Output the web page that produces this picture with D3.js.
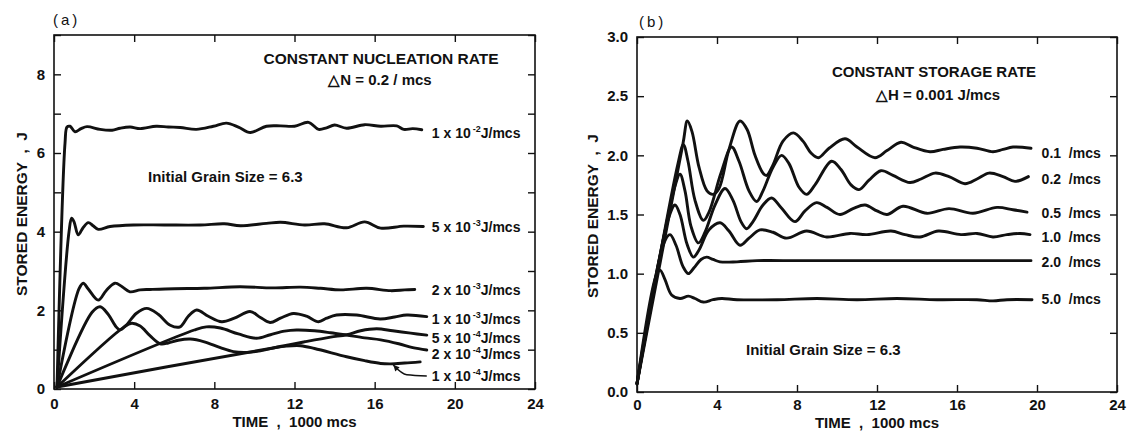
<!DOCTYPE html>
<html>
<head>
<meta charset="utf-8">
<script src="https://cdn.jsdelivr.net/npm/d3@7"></script>
<style>
  body { margin: 0; background: #fff; }
  svg text { font-family: "Liberation Sans", Arial, Helvetica, sans-serif; font-weight: bold; fill: #111; white-space: pre; }
</style>
</head>
<body>
<svg id="canvas" width="1129" height="434"></svg>
<script>
// time in 1000 mcs, stored energy in J

// (a) constant nucleation rate, one curve per storage rate
const curveA_1e2 = [[0.15,0.05],[0.55,6.25],[0.65,6.66],[0.8,6.68],[1.05,6.54],[1.35,6.62],[1.65,6.67],[2.3,6.6],[2.9,6.58],[3.3,6.63],[3.8,6.66],[4.3,6.62],[5.1,6.68],[5.7,6.66],[6.3,6.65],[7.1,6.6],[7.95,6.68],[8.6,6.76],[9.2,6.66],[9.8,6.52],[10.6,6.68],[11.3,6.69],[12.0,6.68],[12.7,6.78],[13.2,6.6],[13.6,6.64],[14.0,6.71],[14.6,6.63],[15.5,6.72],[16.3,6.68],[17.1,6.69],[17.45,6.6],[17.9,6.62],[18.35,6.59]]
const curveA_5e3 = [[0.15,0.05],[0.75,4.0],[0.88,4.34],[1.0,4.25],[1.21,3.92],[1.45,4.1],[1.71,4.23],[1.95,4.15],[2.21,4.06],[2.8,4.13],[3.96,4.17],[5.5,4.17],[7.3,4.17],[8.5,4.2],[9.3,4.15],[10.6,4.21],[11.3,4.24],[12.5,4.17],[13.5,4.2],[14.6,4.1],[15.5,4.25],[16.3,4.09],[17.45,4.14],[18.43,4.13]]
const curveA_2e3 = [[0.15,0.05],[1.25,2.55],[1.46,2.69],[1.7,2.55],[2.21,2.26],[2.6,2.5],[3.04,2.69],[3.4,2.6],[3.79,2.47],[4.3,2.52],[4.79,2.53],[6,2.55],[7.5,2.56],[9.28,2.6],[10.9,2.57],[12.3,2.59],[13.3,2.56],[14.3,2.52],[15.6,2.56],[16.8,2.5],[17.5,2.52],[18.0,2.53]]
const curveA_1e3 = [[0.15,0.05],[1.9,1.95],[2.3,2.09],[2.7,1.9],[3.1,1.58],[3.29,1.5],[3.6,1.62],[4.1,1.92],[4.63,2.05],[5.2,1.9],[5.8,1.62],[6.29,1.58],[6.7,1.85],[7.12,2.01],[7.7,1.85],[8.37,1.71],[9.0,1.8],[9.78,1.97],[10.3,1.82],[10.78,1.69],[11.3,1.8],[11.94,1.92],[12.6,1.85],[13.2,1.71],[13.6,1.8],[14.1,1.88],[15.1,1.88],[16.27,1.78],[17.0,1.83],[17.6,1.88],[18.6,1.84]]
const curveA_5e4 = [[0.15,0.05],[3.5,1.58],[3.88,1.67],[4.3,1.6],[4.8,1.35],[5.3,1.15],[5.7,1.17],[6.2,1.24],[6.8,1.27],[7.5,1.2],[8.3,1.05],[8.95,0.95],[9.6,0.93],[10.3,0.97],[11.28,1.08],[12.5,1.2],[13.8,1.32],[14.6,1.38],[15.3,1.48],[16.1,1.53],[16.9,1.48],[17.8,1.42],[18.6,1.37]]
const curveA_2e4 = [[0.15,0.05],[7.0,1.5],[7.6,1.58],[8.3,1.55],[9.2,1.4],[10.1,1.29],[10.8,1.38],[11.5,1.47],[12.1,1.5],[13.0,1.48],[13.8,1.43],[14.6,1.37],[15.5,1.3],[16.3,1.25],[17.2,1.15],[17.9,1.05],[18.6,0.99]]
const curveA_1e4 = [[0.15,0.05],[11.0,1.05],[11.6,1.09],[12.3,1.1],[13.0,1.03],[14.6,0.82],[15.5,0.72],[16.3,0.65],[16.8,0.64],[17.5,0.66],[18.27,0.69]]

const mantissaA = ['1', '5', '2', '1', '5', '2', '1']
const exponentA = ['-2', '-3', '-3', '-3', '-4', '-4', '-4']
const labelEnergyA = [6.51, 4.13, 2.52, 1.77, 1.31, 0.89, 0.33]
const leaderA = [[16.93, 0.61], [17.6, 0.36], [18.6, 0.33]]

// (b) constant storage rate, one curve per nucleation rate
const curveB_01 = [[0,0.07],[2.3,2.1],[2.52,2.29],[2.75,2.2],[3.1,1.9],[3.5,1.7],[3.8,1.67],[4.1,1.72],[4.6,2.05],[5.15,2.29],[5.5,2.22],[5.9,2.0],[6.3,1.85],[6.48,1.83],[6.8,1.92],[7.3,2.12],[7.82,2.19],[8.3,2.12],[8.7,2.02],[9.07,1.98],[9.6,2.06],[10.4,2.14],[11.0,2.07],[11.9,1.98],[12.5,2.04],[13.2,2.11],[13.8,2.07],[14.65,2.03],[15.3,2.05],[16.15,2.07],[17.0,2.06],[17.8,2.03],[18.3,2.05],[18.8,2.07],[19.7,2.06]]
const curveB_02 = [[0,0.07],[2.05,1.93],[2.32,2.09],[2.55,1.95],[2.9,1.62],[3.32,1.45],[3.6,1.52],[4.2,1.85],[4.73,2.07],[5.1,1.95],[5.6,1.7],[5.98,1.61],[6.3,1.7],[6.8,1.9],[7.23,2.0],[7.6,1.93],[8.1,1.73],[8.48,1.67],[8.9,1.75],[9.73,1.95],[10.2,1.88],[10.7,1.75],[11.1,1.71],[11.6,1.79],[12.2,1.87],[12.8,1.83],[13.65,1.77],[14.2,1.8],[14.9,1.85],[15.6,1.82],[16.4,1.76],[17.0,1.8],[17.6,1.85],[18.3,1.82],[18.9,1.78],[19.57,1.82]]
const curveB_05 = [[0,0.07],[1.9,1.74],[2.15,1.84],[2.4,1.7],[2.7,1.4],[3.07,1.26],[3.4,1.35],[3.9,1.58],[4.4,1.72],[4.8,1.62],[5.2,1.44],[5.48,1.38],[5.8,1.44],[6.3,1.58],[6.73,1.64],[7.2,1.56],[7.9,1.44],[8.4,1.53],[8.98,1.6],[9.5,1.56],[10.15,1.5],[10.8,1.55],[11.4,1.58],[12.0,1.53],[12.5,1.5],[13.3,1.57],[14.5,1.51],[15.6,1.55],[16.8,1.51],[18.0,1.56],[18.8,1.54],[19.5,1.52]]
const curveB_10 = [[0,0.07],[1.6,1.48],[1.9,1.58],[2.15,1.5],[2.5,1.25],[2.82,1.14],[3.1,1.2],[3.6,1.37],[4.15,1.43],[4.6,1.36],[5.15,1.24],[5.6,1.3],[6.15,1.37],[6.8,1.35],[7.48,1.3],[8.48,1.36],[9.48,1.31],[10.65,1.34],[11.5,1.33],[12.7,1.36],[13.4,1.33],[14.15,1.31],[15.07,1.36],[16.2,1.33],[17.0,1.34],[17.8,1.31],[18.5,1.33],[19.15,1.34],[19.65,1.33]]
const curveB_20 = [[0,0.07],[1.35,1.26],[1.65,1.33],[1.95,1.24],[2.3,1.06],[2.57,1.0],[2.85,1.05],[3.2,1.12],[3.48,1.14],[3.8,1.12],[4.15,1.1],[5,1.1],[6,1.11],[8,1.11],[10,1.11],[12,1.11],[14,1.11],[16,1.11],[18,1.11],[19.7,1.11]]
const curveB_50 = [[0,0.07],[0.95,0.98],[1.15,1.03],[1.4,0.95],[1.73,0.82],[2.15,0.79],[2.57,0.81],[2.9,0.79],[3.32,0.76],[3.8,0.78],[4.23,0.79],[5,0.78],[7,0.78],[9,0.79],[11,0.78],[13,0.79],[15,0.78],[17,0.78],[17.8,0.77],[18.5,0.78],[19.75,0.78]]

const rateLabelsB = ['0.1', '0.2', '0.5', '1.0', '2.0', '5.0']
const labelEnergyB = [2.02, 1.80, 1.51, 1.31, 1.10, 0.79]

const timeTicks = [0, 4, 8, 12, 16, 20, 24]
const energyTicksA = d3.range(0, 10)
const energyTicksB = [0, 0.5, 1.0, 1.5, 2.0, 2.5, 3.0]

let svg = d3.select('#canvas')

svg.append('defs').append('marker')
    .attr('id', 'arrow')
    .attr('viewBox', '0 0 10 10')
    .attr('refX', 10)
    .attr('refY', 5)
    .attr('markerWidth', 7)
    .attr('markerHeight', 6)
    .attr('markerUnits', 'userSpaceOnUse')
    .attr('orient', 'auto-start-reverse')
    .append('path')
    .attr('d', 'M0,0 L10,5 L0,10 z')
    .attr('fill', '#111')

let drawFrame = (x, y, yTicks, yFormat, pad) => {
    let [x0, x1] = x.range()
    let [y0, y1] = y.range()

    svg.append('g')
        .attr('transform', 'translate(0,' + y0 + ')')
        .call(d3.axisBottom(x).tickValues(timeTicks).tickSize(-7).tickPadding(pad))
    svg.append('g')
        .attr('transform', 'translate(0,' + y1 + ')')
        .call(d3.axisTop(x).tickValues(timeTicks).tickSize(-7).tickFormat(''))
    svg.append('g')
        .attr('transform', 'translate(' + x0 + ',0)')
        .call(d3.axisLeft(y).tickValues(yTicks).tickSize(-7).tickPadding(9).tickFormat(yFormat))
    svg.append('g')
        .attr('transform', 'translate(' + x1 + ',0)')
        .call(d3.axisRight(y).tickValues(yTicks).tickSize(-7).tickFormat(''))

    svg.selectAll('.domain').remove()
    svg.selectAll('.tick line').attr('stroke', '#111').attr('stroke-width', 1.4)
    svg.selectAll('.tick text').style('font-size', '15px')

    svg.append('rect')
        .attr('x', x0).attr('y', y1)
        .attr('width', x1 - x0).attr('height', y0 - y1)
        .attr('fill', 'none')
        .attr('stroke', '#111')
        .attr('stroke-width', 1.6)
}

let drawCurves = (x, y, curves) => {
    let line = d3.line()
        .x(d => x(d[0]))
        .y(d => y(d[1]))
        .curve(d3.curveCatmullRom.alpha(0.5))
    svg.append('g').selectAll('path')
        .data(curves)
        .enter()
        .append('path')
        .attr('d', line)
        .attr('fill', 'none')
        .attr('stroke', '#111')
        .attr('stroke-width', 2.9)
        .attr('stroke-linejoin', 'round')
        .attr('stroke-linecap', 'round')
}

let axisTitles = (x, y, cx, cy) => {
    let [x0, x1] = x.range()
    let [y0, y1] = y.range()
    svg.append('text')
        .attr('x', (x0 + x1) / 2).attr('y', Math.min(y0 + 38, 428))
        .attr('text-anchor', 'middle')
        .style('font-size', '15px')
        .text('TIME  ,  1000 mcs')
    svg.append('text')
        .attr('transform', 'translate(' + cx + ',' + cy + ') rotate(-90)')
        .attr('text-anchor', 'middle')
        .attr('dy', '0.35em')
        .style('font-size', '15.5px')
        .text('STORED ENERGY  ,  J')
}

// ---------- panel (a)
let xA = d3.scaleLinear().domain([0, 24]).range([54, 535])
let yA = d3.scaleLinear().domain([0, 9]).range([389, 35])

drawFrame(xA, yA, energyTicksA, d => d % 2 === 0 ? d : '', 9)
drawCurves(xA, yA, [curveA_1e2, curveA_5e3, curveA_2e3, curveA_1e3, curveA_5e4, curveA_2e4, curveA_1e4])
axisTitles(xA, yA, 22, 214)

svg.append('text').attr('x', 53).attr('y', 25)
    .style('font-size', '15px').style('font-weight', 'normal').style('letter-spacing', '3px')
    .text('(a)')
svg.append('text').attr('x', 381).attr('y', 64).attr('text-anchor', 'middle')
    .style('font-size', '15.5px').text('CONSTANT NUCLEATION RATE')
svg.append('text').attr('x', 380).attr('y', 85).attr('text-anchor', 'middle')
    .style('font-size', '15px').text('\u25B3N = 0.2 / mcs')
svg.append('text').attr('x', 148).attr('y', 182)
    .style('font-size', '15px').text('Initial Grain Size = 6.3')

mantissaA.forEach((m, i) => {
    let t = svg.append('text')
        .attr('x', xA(18.85)).attr('y', yA(labelEnergyA[i]))
        .attr('dy', '0.36em')
        .style('font-size', '14px')
    t.append('tspan').text(m + ' x 10')
    t.append('tspan').attr('dx', 2).attr('dy', -6).style('font-size', '9px').text(exponentA[i])
    t.append('tspan').attr('dy', 6).text('J/mcs')
})

svg.append('path')
    .attr('d', d3.line().x(d => xA(d[0])).y(d => yA(d[1])).curve(d3.curveMonotoneX)(leaderA))
    .attr('fill', 'none')
    .attr('stroke', '#111')
    .attr('stroke-width', 1.5)
    .attr('marker-start', 'url(#arrow)')

// ---------- panel (b)
let xB = d3.scaleLinear().domain([0, 24]).range([637, 1117])
let yB = d3.scaleLinear().domain([0, 3]).range([392, 37])

drawFrame(xB, yB, energyTicksB, d3.format('.1f'), 7)
drawCurves(xB, yB, [curveB_01, curveB_02, curveB_05, curveB_10, curveB_20, curveB_50])
axisTitles(xB, yB, 593, 216)

svg.append('text').attr('x', 639).attr('y', 27)
    .style('font-size', '15px').style('font-weight', 'normal').style('letter-spacing', '3px')
    .text('(b)')
svg.append('text').attr('x', 934).attr('y', 77).attr('text-anchor', 'middle')
    .style('font-size', '15px').text('CONSTANT STORAGE RATE')
svg.append('text').attr('x', 938).attr('y', 100).attr('text-anchor', 'middle')
    .style('font-size', '15px').text('\u25B3H = 0.001 J/mcs')
svg.append('text').attr('x', 746).attr('y', 355)
    .style('font-size', '15px').text('Initial Grain Size = 6.3')

svg.append('g').selectAll('text')
    .data(rateLabelsB)
    .enter()
    .append('text')
    .attr('x', xB(20.23))
    .attr('y', (d, i) => yB(labelEnergyB[i]))
    .attr('dy', '0.36em')
    .style('font-size', '14px')
    .text(d => d + '  /mcs')
</script>
</body>
</html>
